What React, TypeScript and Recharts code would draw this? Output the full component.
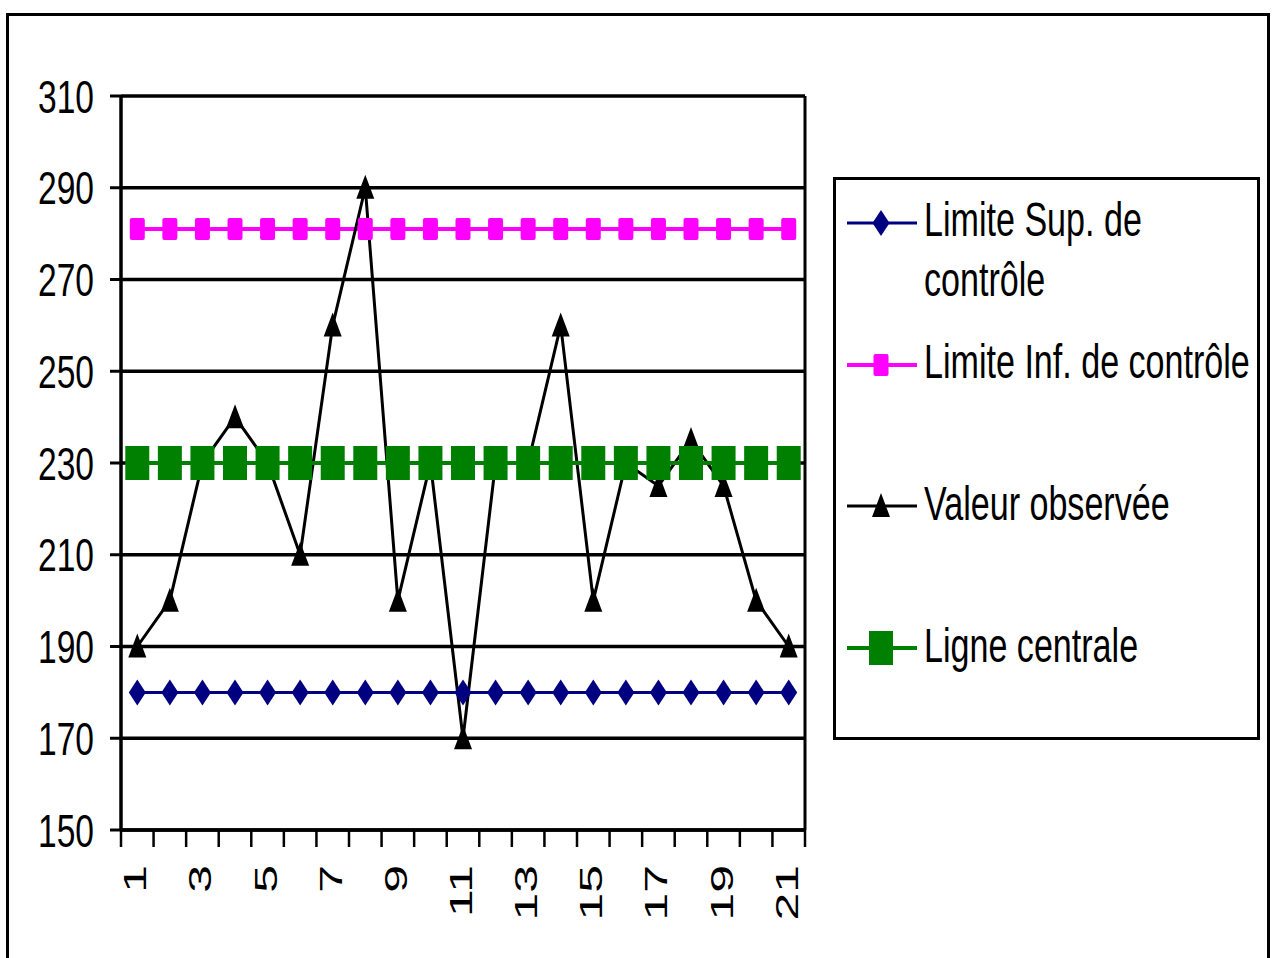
import React from 'react';
import { LineChart, Line, XAxis, YAxis, CartesianGrid, Legend, ReferenceLine } from 'recharts';

const FONT = '"Liberation Sans", Arial, Helvetica, sans-serif';

const categories = [1, 2, 3, 4, 5, 6, 7, 8, 9, 10, 11, 12, 13, 14, 15, 16, 17, 18, 19, 20, 21];
const limiteSup = [180, 180, 180, 180, 180, 180, 180, 180, 180, 180, 180, 180, 180, 180, 180, 180, 180, 180, 180, 180, 180];
const limiteInf = [281, 281, 281, 281, 281, 281, 281, 281, 281, 281, 281, 281, 281, 281, 281, 281, 281, 281, 281, 281, 281];
const valeurObservee = [190, 200, 230, 240, 230, 210, 260, 290, 200, 230, 170, 230, 230, 260, 200, 230, 225, 235, 225, 200, 190];
const ligneCentrale = [230, 230, 230, 230, 230, 230, 230, 230, 230, 230, 230, 230, 230, 230, 230, 230, 230, 230, 230, 230, 230];

const yTicks = [150, 170, 190, 210, 230, 250, 270, 290, 310];
const xLabelTicks = [1, 3, 5, 7, 9, 11, 13, 15, 17, 19, 21];
const xBoundaryTicks = [0.5, 1.5, 2.5, 3.5, 4.5, 5.5, 6.5, 7.5, 8.5, 9.5, 10.5, 11.5, 12.5, 13.5, 14.5, 15.5, 16.5, 17.5, 18.5, 19.5, 20.5, 21.5];

const seriesOrder = ['sup', 'inf', 'obs', 'center'];

const seriesNames: Record<string, string> = {
  sup: 'Limite Sup. de contrôle',
  inf: 'Limite Inf. de contrôle',
  obs: 'Valeur observée',
  center: 'Ligne centrale',
};

const seriesColors: Record<string, string> = {
  sup: '#000080',
  inf: '#FF00FF',
  obs: '#000000',
  center: '#008000',
};

const seriesWidths: Record<string, number> = {
  sup: 3,
  inf: 4,
  obs: 3,
  center: 4,
};

const data = categories.map((c, i) => ({
  x: c,
  sup: limiteSup[i],
  inf: limiteInf[i],
  obs: valeurObservee[i],
  center: ligneCentrale[i],
}));

const allTicks = [...xBoundaryTicks, ...xLabelTicks].sort((a, b) => a - b);

function Marker({ kind, cx, cy }: { kind: string; cx: number; cy: number }) {
  if (cx == null || cy == null) return null;
  switch (kind) {
    case 'sup':
      return (
        <polygon
          points={`${cx},${cy - 13} ${cx + 8.5},${cy} ${cx},${cy + 13} ${cx - 8.5},${cy}`}
          fill={seriesColors.sup}
        />
      );
    case 'inf':
      return <rect x={cx - 7.5} y={cy - 11} width={15} height={22} rx={2} fill={seriesColors.inf} />;
    case 'obs':
      return (
        <polygon
          points={`${cx},${cy - 13} ${cx + 9},${cy + 11} ${cx - 9},${cy + 11}`}
          fill={seriesColors.obs}
        />
      );
    default:
      return <rect x={cx - 12} y={cy - 17} width={24} height={34} fill={seriesColors.center} />;
  }
}

const makeDot = (kind: string) => (props: any) => (
  <g key={`${kind}-${props.index}`}>
    <Marker kind={kind} cx={props.cx} cy={props.cy} />
  </g>
);

const XTick = (props: any) => {
  const { x, y, payload } = props;
  const v = payload.value;
  if (!Number.isInteger(v)) {
    return <line x1={x} y1={y} x2={x} y2={y + 17} stroke="#000" strokeWidth={2.5} />;
  }
  return (
    <g transform={`translate(${x + 9},${y + 35}) scale(0.64,1) rotate(-90)`}>
      <text x={0} y={0} textAnchor="end" fontSize={50} fill="#000" fontFamily={FONT}>
        {v}
      </text>
    </g>
  );
};

const YTick = (props: any) => {
  const { x, y, payload } = props;
  return (
    <g transform={`translate(${x},${y}) scale(0.73,1)`}>
      <text x={0} y={0} dy={16.5} textAnchor="end" fontSize={46} fill="#000" fontFamily={FONT}>
        {payload.value}
      </text>
    </g>
  );
};

const LegendContent = (props: any) => {
  const payload = [...(props.payload || [])].sort(
    (a: any, b: any) => seriesOrder.indexOf(String(a.dataKey)) - seriesOrder.indexOf(String(b.dataKey))
  );
  return (
    <div
      style={{
        position: 'relative',
        width: 427,
        height: 563,
        border: '3px solid #000',
        boxSizing: 'border-box',
        background: '#fff',
        fontFamily: FONT,
      }}
    >
      {payload.map((entry: any, i: number) => {
        const kind = String(entry.dataKey);
        const my = 43 + i * 141.7;
        return (
          <React.Fragment key={kind}>
            <svg style={{ position: 'absolute', left: 0, top: my - 20 }} width={100} height={40}>
              <line x1={11} y1={20} x2={81} y2={20} stroke={seriesColors[kind]} strokeWidth={seriesWidths[kind]} />
              <Marker kind={kind} cx={45} cy={20} />
            </svg>
            <div
              style={{
                position: 'absolute',
                left: 88,
                top: my - 32.6,
                width: 475,
                fontSize: 48,
                lineHeight: '60px',
                transform: 'scaleX(0.71)',
                transformOrigin: 'left top',
                whiteSpace: 'normal',
                color: '#000',
              }}
            >
              {entry.value}
            </div>
          </React.Fragment>
        );
      })}
    </div>
  );
};

export default function App() {
  return (
    <div
      style={{
        position: 'absolute',
        left: 0,
        top: 0,
        width: 1272,
        height: 958,
        overflow: 'hidden',
        background: '#fff',
        fontFamily: FONT,
      }}
    >
      <div
        style={{
          position: 'absolute',
          left: 6,
          top: 13,
          width: 1264,
          height: 1000,
          border: '3px solid #000',
          boxSizing: 'border-box',
        }}
      />
      <div style={{ position: 'absolute', left: 0, top: 0 }}>
        <LineChart width={1272} height={958} data={data} margin={{ top: 96, right: 467, bottom: 68, left: 41 }}>
          <CartesianGrid horizontal vertical={false} stroke="#000" strokeWidth={3.5} />
          <XAxis
            dataKey="x"
            type="number"
            domain={[0.5, 21.5]}
            ticks={allTicks}
            interval={0}
            height={60}
            tickSize={0}
            tickMargin={0}
            tickLine={false}
            axisLine={{ stroke: '#000', strokeWidth: 3.5 }}
            tick={<XTick />}
          />
          <YAxis
            type="number"
            domain={[150, 310]}
            ticks={yTicks}
            interval={0}
            width={80}
            tickSize={11}
            tickMargin={16}
            tickLine={{ stroke: '#000', strokeWidth: 3 }}
            axisLine={{ stroke: '#000', strokeWidth: 3.5 }}
            tick={<YTick />}
          />
          <ReferenceLine x={21.5} stroke="#000" strokeWidth={3} />
          <Legend
            layout="vertical"
            align="center"
            verticalAlign="middle"
            width={427}
            height={563}
            wrapperStyle={{ left: 833, top: 177, width: 427, height: 563 }}
            content={<LegendContent />}
          />
          <Line
            type="linear"
            dataKey="sup"
            name={seriesNames.sup}
            stroke={seriesColors.sup}
            strokeWidth={seriesWidths.sup}
            dot={makeDot('sup')}
            activeDot={false}
            isAnimationActive={false}
          />
          <Line
            type="linear"
            dataKey="inf"
            name={seriesNames.inf}
            stroke={seriesColors.inf}
            strokeWidth={seriesWidths.inf}
            dot={makeDot('inf')}
            activeDot={false}
            isAnimationActive={false}
          />
          <Line
            type="linear"
            dataKey="obs"
            name={seriesNames.obs}
            stroke={seriesColors.obs}
            strokeWidth={seriesWidths.obs}
            dot={makeDot('obs')}
            activeDot={false}
            isAnimationActive={false}
          />
          <Line
            type="linear"
            dataKey="center"
            name={seriesNames.center}
            stroke={seriesColors.center}
            strokeWidth={seriesWidths.center}
            dot={makeDot('center')}
            activeDot={false}
            isAnimationActive={false}
          />
        </LineChart>
      </div>
    </div>
  );
}
